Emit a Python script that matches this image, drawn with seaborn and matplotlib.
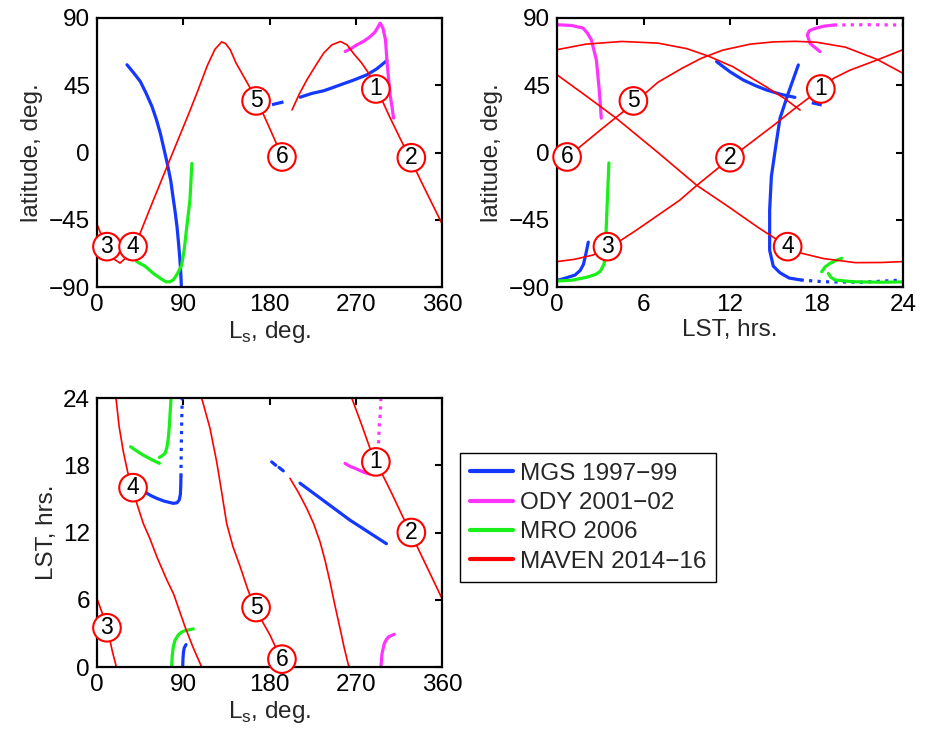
import numpy as np
import pandas as pd
import matplotlib
matplotlib.use("Agg")
import matplotlib.pyplot as plt
from matplotlib.lines import Line2D
import seaborn as sns

# ---------------- colours / legend ----------------
series_names = ["MGS 1997\u221299", "ODY 2001\u221202", "MRO 2006", "MAVEN 2014\u221216"]
series_colors = ["#1438FF", "#FF33FF", "#19F019", "#FF0000"]

# ---------------- numbered markers ----------------
mark_ids = ["1", "2", "3", "4", "5", "6"]
mark_ls = [291, 328, 10.4, 37.6, 166, 193]
mark_lat = [42.5, -3.5, -63, -63, 34.5, -3]
mark_lst = [18.3, 12.0, 3.5, 16.0, 5.3, 0.7]

# ================= Panel A: latitude vs Ls =================
maven_ls_a1 = [0, 5, 10, 17, 24, 31, 38, 45, 60, 74, 90, 97, 105, 115, 123, 130, 134, 139, 145, 153, 167, 181, 194]
maven_lat_a1 = [-48, -56, -63, -71, -74, -70, -63, -54, -30, -8, 17, 28, 41, 58, 69, 74, 73, 68.8, 60, 50.9, 35, 15, -4]
maven_ls_a2 = [203.5, 211, 219, 228, 236.5, 245, 254, 261, 268, 276, 283.5, 292, 306, 317, 329, 341, 359.5]
maven_lat_a2 = [28.5, 39, 48.6, 58, 66.5, 72, 74.3, 72, 66, 60, 53, 42.6, 23, 8.5, -7, -23, -47]

mgs_ls_a1 = [31.3, 38, 45.2, 51, 57.4, 62, 66.1, 70, 73.7, 77, 79.3, 81.5, 83.5, 85, 86.3, 87.3, 88]
mgs_lat_a1 = [58.7, 53.5, 47.5, 40, 30.7, 22, 12.8, 2, -8.4, -19, -29.7, -39.5, -49.8, -60, -70, -79, -89]
mgs_ls_a2 = [182.6, 195.5]
mgs_lat_a2 = [32, 34]
mgs_ls_a3 = [212, 224, 236.5, 245, 254, 268, 281.7, 292, 302.6]
mgs_lat_a3 = [37, 39.5, 41.3, 43.2, 45.3, 48.5, 52, 56, 61.6]

ody_ls_a = [259, 265, 271, 278, 284, 290, 295.6, 298.5, 301, 302.5, 304, 306, 307.8, 309.5]
ody_lat_a = [67.6, 69.5, 72, 74.3, 77, 80.5, 86.6, 83, 75.5, 62, 51, 38, 30.7, 23]

mro_ls_a = [41.4, 50, 59, 68, 72, 76.2, 80, 84, 88.4, 91, 94, 97, 99]
mro_lat_a = [-73, -76, -81, -85, -86.5, -86.5, -85, -81, -75.3, -65, -48, -31.8, -7.3]

# ================= Panel B: latitude vs LST =================
maven_lst_b1 = [0, 1.2, 2.5, 3.6, 5.5, 7, 8.5, 9.7, 12, 15, 16.5, 18.3, 19.2, 20.3, 22.2, 24]
maven_lat_b1 = [-73, -71.5, -68.6, -64, -52, -42, -32, -22, -4, 18, 29.5, 42.6, 49.7, 55, 61.9, 68.8]
maven_lst_b2 = [0, 2, 4.1, 7, 9.7, 12, 14, 16.1, 17, 18.5, 20.7, 22.5, 24]
maven_lat_b2 = [52, 38, 23, 0, -22, -37, -50.5, -63.5, -67.5, -71, -73.7, -73.6, -73]
maven_lst_b3 = [0.5, 0.76, 3, 5.46, 7, 8.7, 10, 11.5, 13.4, 15, 16.5, 18, 20, 22.2, 24]
maven_lat_b3 = [-5, -2.8, 15, 34, 47, 56.5, 63, 68.5, 72.5, 74, 74.4, 73.8, 70.5, 62.3, 53]
maven_lst_b4 = [0, 2, 4.5, 7, 9, 10.5, 12.2, 14.5, 15.8, 16.86]
maven_lat_b4 = [68.8, 72.5, 74.3, 73.2, 69.5, 64.5, 57.4, 44, 36, 28.4]

mgs_lst_b1 = [0.05, 0.6, 1.25, 1.6, 1.83, 2.0, 2.17]
mgs_lat_b1 = [-85.5, -84, -82, -79, -75, -68, -60]
mgs_lst_b2 = [16.74, 16.04, 15.47, 15.2, 14.87, 14.75, 14.75, 15.0, 15.47, 16.1, 16.9]
mgs_lat_b2 = [58.6, 39.6, 23, 6, -16, -38.6, -65.4, -76, -80.5, -84, -85.3]
mgs_lst_b2d = [16.9, 18.5, 21.2, 24]
mgs_lat_b2d = [-85.3, -86.5, -86.8, -85.3]
mgs_lst_b3 = [11.07, 12.0, 12.92, 13.8, 14.54, 15.5, 16.5]
mgs_lat_b3 = [60.8, 54, 48.5, 44.6, 41.8, 39, 36.9]
mgs_lst_b4 = [17.67, 18.36]
mgs_lat_b4 = [33.3, 31.8]

ody_lst_b1 = [0, 1.0, 1.8, 2.1, 2.38, 2.73, 2.91, 3.0, 3.07]
ody_lat_b1 = [85.5, 85, 83.3, 80, 75.5, 62, 44, 33, 23]
ody_lst_b2 = [18.24, 17.55, 17.36, 17.5, 17.9, 18.5, 19.2]
ody_lat_b2 = [67.5, 73, 78.6, 81.5, 83, 84.5, 85.3]
ody_lst_b2d = [19.2, 21.5, 24]
ody_lat_b2d = [85.3, 85.5, 85.3]

mro_lst_b1 = [0, 1, 2.06, 2.7, 3.0, 3.25, 3.33, 3.4, 3.5, 3.6]
mro_lat_b1 = [-86, -85.5, -83.5, -81.5, -79.5, -75, -70, -54, -30, -7]
mro_lst_b2 = [18.36, 18.6, 18.94, 19.35, 19.75]
mro_lat_b2 = [-79.8, -76.5, -74.2, -72.2, -70.8]
mro_lst_b3 = [18.82, 19.0, 19.28, 20.55, 22.5, 24]
mro_lat_b3 = [-80.9, -83.5, -85.3, -86.5, -86.8, -86.6]

# ================= Panel C: LST vs Ls =================
maven_ls_c1 = [0, 5.5, 11, 16, 20.2]
maven_lst_c1 = [6.1, 4.8, 3.4, 1.4, 0]
maven_ls_c2 = [19.8, 23, 27.5, 32, 37.2, 43, 48.3, 55, 62.6, 72.7, 80, 91.8, 100, 109.2]
maven_lst_c2 = [24, 21.5, 19.2, 17.4, 15.8, 14.2, 12.8, 11.5, 9.8, 7.8, 6.5, 3.6, 1.8, 0]
maven_ls_c3 = [109.2, 117.9, 124.9, 130.1, 135.3, 142, 149.2, 157, 165, 180.5, 192.7]
maven_lst_c3 = [24, 21.3, 18.3, 15.6, 12.8, 10.7, 9.0, 7.0, 5.2, 2.85, 0.6]
maven_ls_c4 = [201.4, 210, 218.8, 226, 232.7, 238, 243.1, 248, 253.6, 258, 262.3, 264]
maven_lst_c4 = [16.83, 15.6, 14.16, 12.8, 11.18, 9.5, 7.61, 5.6, 3.45, 1.7, 0.18, 0]
maven_ls_c5 = [265.8, 276.2, 284.9, 291.9, 307.5, 318, 327.6, 343, 359.5]
maven_lst_c5 = [24, 21.6, 19.5, 18.2, 15.5, 13.6, 11.9, 9.15, 6.2]

mgs_ls_c1 = [182.3, 186.5]
mgs_lst_c1 = [18.3, 18.0]
mgs_ls_c1b = [190, 194.4]
mgs_lst_c1b = [17.8, 17.5]
mgs_ls_c2 = [211.8, 264, 302]
mgs_lst_c2 = [16.4, 13.1, 11.0]
mgs_ls_c3 = [50.1, 56, 62.3, 70, 79.6, 83.5, 85.8, 87.0, 87.4, 87.6]
mgs_lst_c3 = [15.6, 15.3, 15.05, 14.8, 14.6, 14.65, 14.9, 15.4, 16.2, 17.0]
mgs_ls_c3d = [87.6, 88.0, 88.4, 89.0]
mgs_lst_c3d = [17.0, 20.0, 22.0, 24.0]
mgs_ls_c4 = [89.4, 89.7, 90.2, 91.0, 92.9]
mgs_lst_c4 = [0, 0.7, 1.3, 1.7, 2.0]

ody_ls_c1 = [293.5, 293.9, 294.6, 295.5, 296.3]
ody_lst_c1 = [19.2, 20.2, 21.6, 22.5, 24]
ody_ls_c2 = [258.8, 264, 269.2, 275, 281.4, 286]
ody_lst_c2 = [18.17, 17.9, 17.73, 17.5, 17.28, 17.2]
ody_ls_c3 = [296.3, 297.4, 299.8, 302, 304.3, 310.2]
ody_lst_c3 = [0, 1.19, 2.09, 2.45, 2.69, 2.92]

mro_ls_c1 = [35.1, 41, 48.3, 57, 65.1]
mro_lst_c1 = [19.65, 19.3, 18.9, 18.5, 18.17]
mro_ls_c2 = [65.1, 68, 71, 73, 74.4, 75.5, 76.2, 77.2]
mro_lst_c2 = [18.7, 18.85, 19.07, 19.6, 20.4, 21.5, 22.5, 23.9]
mro_ls_c3 = [77.9, 78.5, 79.6, 81.5, 84.8, 88, 91.8, 100.5]
mro_lst_c3 = [0, 1.0, 1.8, 2.4, 2.86, 3.1, 3.24, 3.4]

# ---------------- style ----------------
sns.set_theme(style="white")
plt.rcParams["font.family"] = ["Liberation Sans", "DejaVu Sans"]
plt.rcParams["mathtext.fontset"] = "custom"
plt.rcParams["mathtext.rm"] = "Liberation Sans"
plt.rcParams["axes.unicode_minus"] = True

FS = 17.5
LW_SAT = 2.3
LW_RED = 1.2
C_MGS, C_ODY, C_MRO, C_MAV = series_colors


def draw(ax, x, y, color, lw, ls="-"):
    df = pd.DataFrame({"x": x, "y": y})
    sns.lineplot(data=df, x="x", y="y", sort=False, estimator=None, ax=ax,
                 color=color, linewidth=lw, linestyle=ls, legend=False)


def style_axes(ax, xlim, ylim, xticks, yticks, xlabel, ylabel):
    ax.set_xlim(*xlim)
    ax.set_ylim(*ylim)
    ax.set_xticks(xticks)
    ax.set_yticks(yticks)
    ax.set_xlabel(xlabel, fontsize=FS, labelpad=2)
    ax.set_ylabel(ylabel, fontsize=FS, labelpad=4)
    ax.tick_params(direction="in", top=True, right=True, length=5, width=1.5,
                   labelsize=FS, pad=5, colors="black")
    for s in ax.spines.values():
        s.set_linewidth(1.6)
        s.set_color("black")
    ax.grid(False)


def marks(ax, xs, ys):
    for t, x, y in zip(mark_ids, xs, ys):
        ax.text(x, y, t, fontsize=16.5, ha="center", va="center", color="black",
                clip_on=False, zorder=10,
                bbox=dict(boxstyle="circle,pad=0.1", fc="white", ec="red", lw=1.5))


W, H = 925, 733
fig = plt.figure(figsize=(W / 100, H / 100), dpi=100)

def add_axes(x0, y0, x1, y1):
    return fig.add_axes([x0 / W, 1 - y1 / H, (x1 - x0) / W, (y1 - y0) / H])

axA = add_axes(97, 18, 442, 287)
axB = add_axes(557, 18, 903, 287)
axC = add_axes(97, 398, 442, 667)

ls_label = r"L$_\mathregular{s}$, deg."

# Panel A
draw(axA, mgs_ls_a1, mgs_lat_a1, C_MGS, LW_SAT)
draw(axA, mgs_ls_a2, mgs_lat_a2, C_MGS, LW_SAT, "--")
draw(axA, mgs_ls_a3, mgs_lat_a3, C_MGS, LW_SAT)
draw(axA, ody_ls_a, ody_lat_a, C_ODY, LW_SAT)
draw(axA, mro_ls_a, mro_lat_a, C_MRO, LW_SAT)
draw(axA, maven_ls_a1, maven_lat_a1, C_MAV, LW_RED)
draw(axA, maven_ls_a2, maven_lat_a2, C_MAV, LW_RED)
style_axes(axA, (0, 360), (-90, 90), [0, 90, 180, 270, 360], [-90, -45, 0, 45, 90],
           ls_label, "latitude, deg.")
marks(axA, mark_ls, mark_lat)

# Panel B
draw(axB, mgs_lst_b1, mgs_lat_b1, C_MGS, LW_SAT)
draw(axB, mgs_lst_b2, mgs_lat_b2, C_MGS, LW_SAT)
draw(axB, mgs_lst_b2d, mgs_lat_b2d, C_MGS, LW_SAT, ":")
draw(axB, mgs_lst_b3, mgs_lat_b3, C_MGS, LW_SAT)
draw(axB, mgs_lst_b4, mgs_lat_b4, C_MGS, LW_SAT, "--")
draw(axB, ody_lst_b1, ody_lat_b1, C_ODY, LW_SAT)
draw(axB, ody_lst_b2, ody_lat_b2, C_ODY, LW_SAT)
draw(axB, ody_lst_b2d, ody_lat_b2d, C_ODY, LW_SAT, ":")
draw(axB, mro_lst_b1, mro_lat_b1, C_MRO, LW_SAT)
draw(axB, mro_lst_b2, mro_lat_b2, C_MRO, LW_SAT)
draw(axB, mro_lst_b3, mro_lat_b3, C_MRO, LW_SAT)
draw(axB, maven_lst_b1, maven_lat_b1, C_MAV, LW_RED)
draw(axB, maven_lst_b2, maven_lat_b2, C_MAV, LW_RED)
draw(axB, maven_lst_b3, maven_lat_b3, C_MAV, LW_RED)
draw(axB, maven_lst_b4, maven_lat_b4, C_MAV, LW_RED)
style_axes(axB, (0, 24), (-90, 90), [0, 6, 12, 18, 24], [-90, -45, 0, 45, 90],
           "LST, hrs.", "latitude, deg.")
marks(axB, mark_lst, mark_lat)

# Panel C
draw(axC, mgs_ls_c1, mgs_lst_c1, C_MGS, LW_SAT)
draw(axC, mgs_ls_c1b, mgs_lst_c1b, C_MGS, LW_SAT)
draw(axC, mgs_ls_c2, mgs_lst_c2, C_MGS, LW_SAT)
draw(axC, mgs_ls_c3, mgs_lst_c3, C_MGS, LW_SAT)
draw(axC, mgs_ls_c3d, mgs_lst_c3d, C_MGS, LW_SAT, ":")
draw(axC, mgs_ls_c4, mgs_lst_c4, C_MGS, LW_SAT)
draw(axC, ody_ls_c1, ody_lst_c1, C_ODY, LW_SAT, ":")
draw(axC, ody_ls_c2, ody_lst_c2, C_ODY, LW_SAT)
draw(axC, ody_ls_c3, ody_lst_c3, C_ODY, LW_SAT)
draw(axC, mro_ls_c1, mro_lst_c1, C_MRO, LW_SAT)
draw(axC, mro_ls_c2, mro_lst_c2, C_MRO, LW_SAT)
draw(axC, mro_ls_c3, mro_lst_c3, C_MRO, LW_SAT)
draw(axC, maven_ls_c1, maven_lst_c1, C_MAV, LW_RED)
draw(axC, maven_ls_c2, maven_lst_c2, C_MAV, LW_RED)
draw(axC, maven_ls_c3, maven_lst_c3, C_MAV, LW_RED)
draw(axC, maven_ls_c4, maven_lst_c4, C_MAV, LW_RED)
draw(axC, maven_ls_c5, maven_lst_c5, C_MAV, LW_RED)
style_axes(axC, (0, 360), (0, 24), [0, 90, 180, 270, 360], [0, 6, 12, 18, 24],
           ls_label, "LST, hrs.")
marks(axC, mark_ls, mark_lst)

# Legend
handles = [Line2D([0], [0], color=c, lw=3) for c in series_colors]
leg = fig.legend(handles, series_names, loc="upper left",
                 bbox_to_anchor=(460 / W, 1 - 453 / H), frameon=True, fancybox=False,
                 edgecolor="black", framealpha=1, fontsize=FS, handlelength=1.8,
                 handletextpad=0.25, labelspacing=0.3, borderpad=0.4, borderaxespad=0)
leg.get_frame().set_linewidth(1.0)

fig.savefig("out.png", dpi=100)
